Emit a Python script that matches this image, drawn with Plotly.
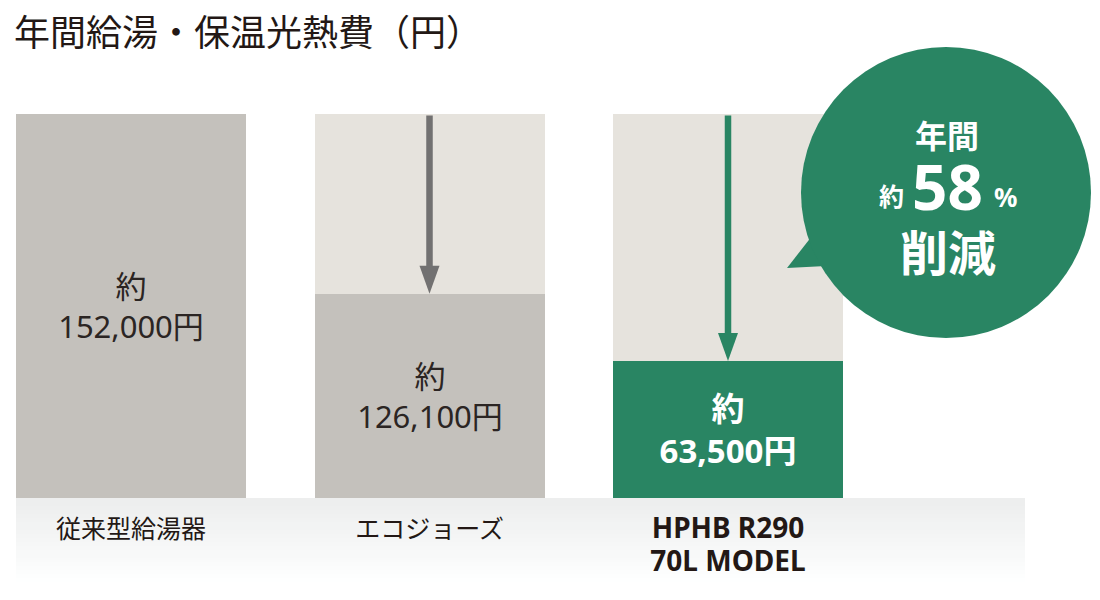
import plotly.graph_objects as go

# values shown on the chart
categories = ["従来型給湯器", "エコジョーズ", "HPHB R290\n70L MODEL"]
annual_cost = [152000, 126100, 63500]
# bar heights as drawn in the infographic (not to scale with the labels)
drawn_heights = [152000, 80800, 54200]

GRAY = "#c4c1bc"
LIGHT = "#e6e3dd"
GREEN = "#298563"
ARROW_GRAY = "#727171"
INK = "#231815"
FONT = "Noto Sans, Noto Sans CJK JP, sans-serif"
JP = "Noto Sans CJK JP"

W, H = 1100, 600
OFF = 8  # page margin the browser adds around the plot


def px(x):
	return (x - OFF) / W


def py(y):
	return 1 - (y - OFF) / H


x_pos = list(range(len(categories)))
ref_level = annual_cost[0]
cut_pct = round((1 - annual_cost[-1] / annual_cost[0]) * 100)

labels = []
for i, v in enumerate(annual_cost):
	txt = "約<br>{:,}円".format(v)
	if i == len(annual_cost) - 1:
		txt = "<b>" + txt + "</b>"
	labels.append(txt)

# the new model's name is set bigger and bold
tick_text = categories[:-1] + [
	"<br>".join("<b><span style='font-size:28px'>{}</span></b>".format(s)
				for s in categories[-1].split("\n"))
]

fig = go.Figure()

# reference level behind each bar
fig.add_trace(go.Bar(
	x=x_pos, y=[ref_level] * len(x_pos),
	marker=dict(color=[GRAY, LIGHT, LIGHT], line=dict(width=0)),
	width=0.7705, hoverinfo="skip", showlegend=False,
))

fig.add_trace(go.Bar(
	x=x_pos, y=drawn_heights,
	marker=dict(color=[GRAY, GRAY, GREEN], line=dict(width=0)),
	width=0.7705,
	text=labels, textposition="inside", insidetextanchor="middle",
	textangle=0, constraintext="none",
	textfont=dict(family=FONT, size=[31, 31, 33], color=["#2b2523", "#2b2523", "white"]),
	hoverinfo="skip", showlegend=False,
))

shapes = []
annotations = []

# arrows from the reference level down to the reduced bars
for i in x_pos[1:]:
	col = GREEN if i == x_pos[-1] else ARROW_GRAY
	annotations.append(dict(
		x=i, y=drawn_heights[i], ax=i, ay=ref_level,
		xref="x", yref="y", axref="x", ayref="y",
		text="", showarrow=True, arrowhead=0, arrowwidth=6.5,
		arrowcolor=col, standoff=26,
	))
	shapes.append(dict(
		type="path", xref="x", yref="y",
		xsizemode="pixel", ysizemode="pixel",
		xanchor=i, yanchor=drawn_heights[i],
		path="M-10,28 L10,28 L0,0 Z",
		fillcolor=col, line=dict(width=0),
	))

# light gradient band under the bars
n_strips = 21
for k in range(n_strips):
	c = int(237 + (254 - 237) * k / (n_strips - 1))
	shapes.append(dict(
		type="rect", xref="paper", yref="paper", layer="below",
		x0=px(16), x1=px(1025),
		y0=py(498 + 4 * (k + 1)), y1=py(498 + 4 * k),
		fillcolor="rgb({0},{1},{1})".format(c, min(c + 1, 255)), line=dict(width=0),
	))

# speech bubble
shapes.append(dict(
	type="path", xref="paper", yref="paper",
	path="M {:.4f},{:.4f} L {:.4f},{:.4f} L {:.4f},{:.4f} Z".format(
		px(812), py(236), px(787), py(268), px(826), py(266)),
	fillcolor=GREEN, line=dict(width=0),
))
shapes.append(dict(
	type="circle", xref="paper", yref="paper",
	x0=px(801), x1=px(1091), y0=py(338), y1=py(47),
	fillcolor=GREEN, line=dict(width=0),
))


def bubble_text(x, y, text, size, family=JP):
	return dict(x=px(x), y=py(y), xref="paper", yref="paper", showarrow=False,
				xanchor="center", yanchor="middle",
				text="<b>" + text + "</b>", font=dict(family=family, size=size, color="white"))


annotations += [
	bubble_text(947, 134, "年間", 32),
	bubble_text(891, 195, "約", 25),
	bubble_text(947, 186, str(cut_pct), 62, FONT),
	bubble_text(1005, 197, "%", 26, FONT),
	bubble_text(948, 250, "削減", 48),
]

fig.update_layout(
	width=W, height=H,
	margin=dict(l=0, r=0, t=0, b=0),
	paper_bgcolor="white", plot_bgcolor="white",
	barmode="overlay", bargap=0,
	title=dict(text="年間給湯・保温光熱費（円）", x=px(14), xanchor="left",
			   y=py(33), yanchor="middle", yref="container",
			   font=dict(family=JP, size=36, color=INK)),
	xaxis=dict(range=[-(131 - OFF) / 298.5, (W - 131 + OFF) / 298.5], domain=[0, 1],
			   tickvals=x_pos, ticktext=tick_text, ticks="", ticklabelstandoff=14,
			   showgrid=False, zeroline=False, showline=False,
			   tickfont=dict(family=FONT, size=25, color=INK)),
	yaxis=dict(range=[0, ref_level], domain=[py(498), py(114)],
			   visible=False, showgrid=False),
	shapes=shapes,
	annotations=annotations,
)

fig.write_html("out.html")
